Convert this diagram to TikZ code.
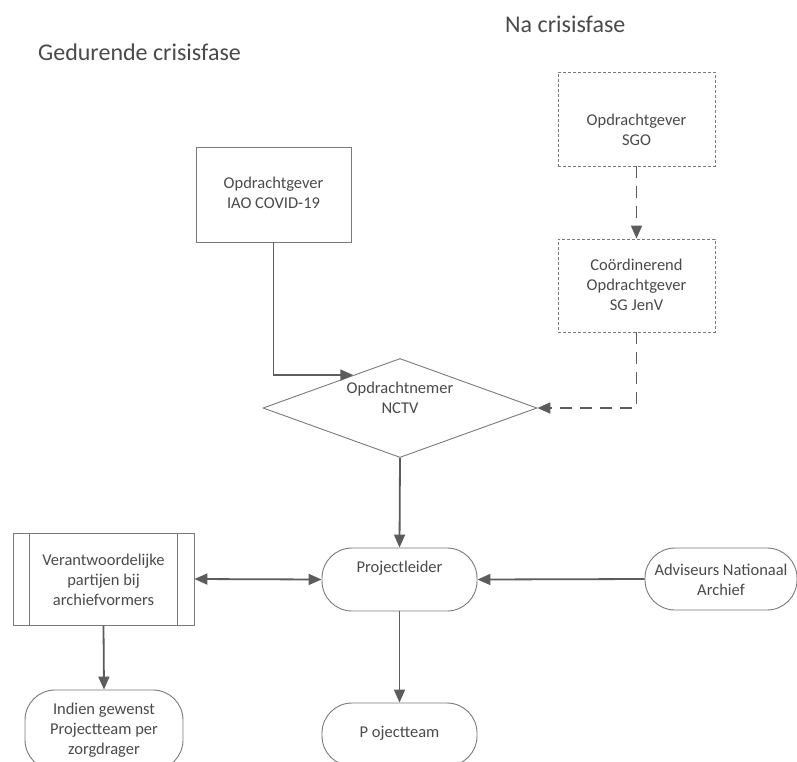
\documentclass[tikz,border=0pt]{standalone}
\usepackage{fontspec}
\setmainfont{Carlito}
\usetikzlibrary{arrows.meta,shapes.geometric,calc}
\definecolor{txt}{HTML}{4A4A4A}
\definecolor{edge}{HTML}{7A7A7A}
\definecolor{conncol}{HTML}{5C5C5C}
\begin{document}
\begin{tikzpicture}[x=1pt,y=-1pt,
  shapebox/.style={draw=edge,line width=0.9pt,inner sep=0pt,rectangle},
  dashbox/.style={shapebox,dash pattern=on 3pt off 2pt},
  stadium/.style={shapebox,rounded corners=30pt},
  lbl/.style={text=txt,align=center,font=\fontsize{16.5}{20}\selectfont,inner sep=0pt},
  ttl/.style={text=txt,font=\fontsize{24}{28}\selectfont,inner sep=0pt},
  conn/.style={draw=conncol,line width=1.8pt,-{Triangle[length=13pt,width=11pt]}},
  dashconn/.style={conn,dash pattern=on 12pt off 8pt}]
\useasboundingbox (0,0) rectangle (797,761);
\clip (0,0) rectangle (797,761);
\fill[white] (0,0) rectangle (797,761);

% titles
\node[ttl,anchor=west] (t1) at (38,52) {Gedurende crisisfase};
\node[ttl,anchor=west] (t2) at (505,24) {Na crisisfase};

% shapes
\node[shapebox,minimum width=155pt,minimum height=95pt] (iao) at (273.5,194.5) {};
\node[dashbox,minimum width=157pt,minimum height=94pt] (sgo) at (636.5,119) {};
\node[dashbox,minimum width=157pt,minimum height=93pt] (sgjv) at (636.5,285.5) {};
\node[draw=edge,line width=0.9pt,diamond,inner sep=0pt,minimum width=274pt,minimum height=99pt] (nctv) at (400,408) {};
\node[shapebox,minimum width=181pt,minimum height=92pt] (ver) at (103.5,579) {};
\draw[draw=edge,line width=0.9pt] ([xshift=17pt]ver.north west) -- ([xshift=17pt]ver.south west);
\draw[draw=edge,line width=0.9pt] ([xshift=-17pt]ver.north east) -- ([xshift=-17pt]ver.south east);
\node[stadium,minimum width=155pt,minimum height=63pt] (pl) at (399.5,579.5) {};
\node[stadium,minimum width=152pt,minimum height=62pt] (adv) at (721,579) {};
\node[stadium,minimum width=155pt,minimum height=63pt] (pt) at (399.5,734.5) {};
\node[stadium,minimum width=158pt,minimum height=80pt] (ind) at (104,730) {};

% texts
\node[lbl] (iaot) at (273.5,193) {Opdrachtgever\\IAO COVID-19};
\node[lbl] (sgot) at (636.5,130) {Opdrachtgever\\SGO};
\node[lbl] (sgjvt) at (636.5,285) {Coördinerend\\Opdrachtgever\\SG JenV};
\node[lbl] (nctvt) at (400,398) {Opdrachtnemer\\NCTV};
\node[lbl] (vert) at (103.5,580) {Verantwoordelijke\\partijen bij\\archiefvormers};
\node[lbl] (plt) at (399.5,568) {Projectleider};
\node[lbl] (advt) at (721,580) {Adviseurs Nationaal\\Archief};
\node[lbl] (ptt) at (399.5,733) {P ojectteam};
\node[lbl] (indt) at (104,730) {Indien gewenst\\Projectteam per\\zorgdrager};

% connectors
\draw[conn] (iao.south) |- ($(nctv.west)!0.66!(nctv.north)$);
\draw[dashconn] (sgo.south) -- (sgjv.north);
\draw[dashconn] (sgjv.south) |- (nctv.east);
\draw[conn] (nctv.south) -- (pl.north);
\draw[conn,{Triangle[length=13pt,width=11pt]}-{Triangle[length=13pt,width=11pt]}] (ver.east) -- (pl.west);
\draw[conn] (adv.west) -- (pl.east);
\draw[conn] (pl.south) -- (pt.north);
\draw[conn] (ver.south) -- (ind.north);
\end{tikzpicture}
\end{document}
